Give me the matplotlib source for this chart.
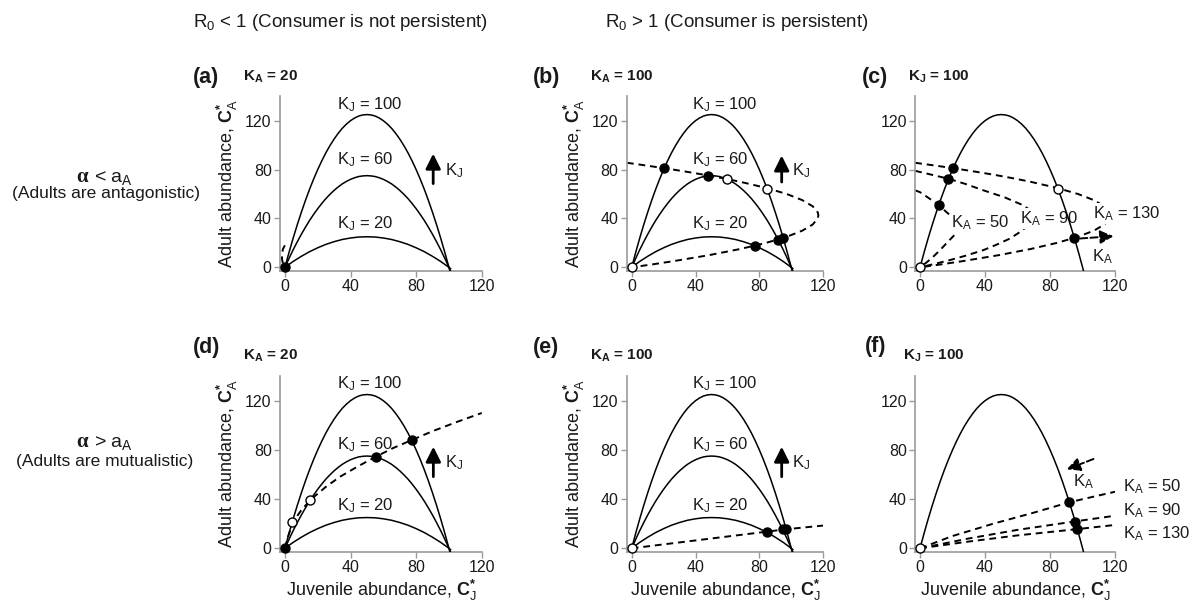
import matplotlib
matplotlib.use("Agg")
import matplotlib.pyplot as plt

plt.rcParams['font.family'] = ['Liberation Sans', 'DejaVu Sans']
plt.rcParams['mathtext.fontset'] = 'custom'
plt.rcParams['mathtext.rm'] = 'Liberation Sans'
plt.rcParams['mathtext.bf'] = 'Liberation Sans:bold'
plt.rcParams['mathtext.it'] = 'Liberation Sans:italic'

# ---------------- data ----------------
# hump-shaped juvenile nullclines (C_J*, C_A*) for K_J = 100, 60, 20
hump_cj = [0, 2.5, 5, 7.5, 10, 12.5, 15, 17.5, 20, 22.5, 25, 27.5, 30, 32.5, 35, 37.5, 40,
           42.5, 45, 47.5, 50, 52.5, 55, 57.5, 60, 62.5, 65, 67.5, 70, 72.5, 75, 77.5, 80,
           82.5, 85, 87.5, 90, 92.5, 95, 97.5, 100, 101]
hump_kj100 = [0, 12.2, 23.8, 34.7, 45.0, 54.7, 63.8, 72.2, 80.0, 87.2, 93.8, 99.7, 105.0,
              109.7, 113.8, 117.2, 120.0, 122.2, 123.8, 124.7, 125.0, 124.7, 123.8, 122.2,
              120.0, 117.2, 113.8, 109.7, 105.0, 99.7, 93.8, 87.2, 80.0, 72.2, 63.8, 54.7,
              45.0, 34.7, 23.8, 12.2, 0, -5.1]
hump_kj60 = [0, 7.3, 14.3, 20.8, 27.0, 32.8, 38.3, 43.3, 48.0, 52.3, 56.3, 59.8, 63.0, 65.8,
             68.3, 70.3, 72.0, 73.3, 74.3, 74.8, 75.0, 74.8, 74.3, 73.3, 72.0, 70.3, 68.3,
             65.8, 63.0, 59.8, 56.3, 52.3, 48.0, 43.3, 38.3, 32.8, 27.0, 20.8, 14.3, 7.3, 0, -3.0]
hump_kj20 = [0, 2.4, 4.8, 6.9, 9.0, 10.9, 12.8, 14.4, 16.0, 17.4, 18.8, 19.9, 21.0, 21.9,
             22.8, 23.4, 24.0, 24.4, 24.8, 24.9, 25.0, 24.9, 24.8, 24.4, 24.0, 23.4, 22.8,
             21.9, 21.0, 19.9, 18.8, 17.4, 16.0, 14.4, 12.8, 10.9, 9.0, 6.9, 4.8, 2.4, 0, -1.0]

# adult nullclines (dashed)
iso_a_cj = [0, -1.2, -1.8, -1.8, -1.2, 0]
iso_a_ca = [18, 15, 11, 7, 3, 0]

iso_b_cj = [-3, 0, 5.4, 15.9, 25.9, 37.7, 48.6, 58.7, 68.0, 84.2, 97.2, 106.9, 113.4, 116.6,
            117.0, 116.6, 113.4, 106.9, 97.2, 84.2, 68.0, 48.6, 25.9, 13.4, 0]
iso_b_ca = [85.5, 85, 84, 82, 80, 77.5, 75, 72.5, 70, 65, 60, 55, 50, 45, 42.5, 40, 35, 30,
            25, 20, 15, 10, 5, 2.5, 0]

iso_c130_cj = iso_b_cj
iso_c130_ca = iso_b_ca
iso_c90_cj = [-3, 0, 8, 17.4, 28, 39, 52, 63.6, 68.5, 70, 69, 66.7, 61, 55.4, 47, 39, 28, 18, 8, 0]
iso_c90_ca = [79, 78, 75.5, 72.5, 68.2, 63, 57.3, 50.7, 46, 41, 37.5, 34.4, 28.5, 23.6, 18.5,
              14.1, 9.5, 5.8, 2.5, 0]
iso_c50_cj = [-3, 0, 5, 11.7, 16, 20, 23.5, 25, 24.8, 23.6, 20.5, 16.5, 12.3, 8, 4, 0]
iso_c50_ca = [63, 61.5, 57, 50.7, 45.5, 41, 37, 34, 32, 30.4, 25.5, 20, 14.1, 8.5, 4, 0]

iso_d_cj = [0, 1.5, 5.1, 10, 15.9, 25, 33.6, 45, 55.5, 66, 77.3, 90, 105, 120]
iso_d_ca = [0, 8, 21.7, 31, 39.8, 50, 58.2, 67, 74.5, 81.5, 88, 95.2, 102.8, 110]

iso_e_cj = [0, 30, 60, 84.5, 96, 120]
iso_e_ca = [0, 4.8, 9.6, 13.5, 15.4, 18.5]

iso_f50_cj = [0, 20, 45, 70, 92, 120]
iso_f50_ca = [0, 10, 20, 29, 37.5, 46]
iso_f90_cj = [0, 30, 60, 96, 120]
iso_f90_ca = [0, 8, 15, 22, 26.5]
iso_f130_cj = [0, 30, 60, 97.4, 120]
iso_f130_ca = [0, 5.5, 10.5, 15.7, 19]

# equilibria: filled = stable, open = unstable
eq_a_filled = ([0], [0])
eq_b_filled = ([20.5, 48, 77, 92, 95], [81, 75, 17.8, 22.5, 23.8])
eq_b_open = ([0, 60, 85], [0, 72, 64])
eq_c_filled = ([20.5, 17.4, 11.7, 94.8], [81, 72.5, 50.7, 24.1])
eq_c_open = ([0, 85], [0, 64])
eq_d_filled = ([0, 55.5, 77.3], [0, 74.5, 88])
eq_d_open = ([4.5, 15.5], [21.5, 39.5])
eq_e_filled = ([84.5, 94.8, 96.9], [13.5, 15.3, 15.6])
eq_e_open = ([0], [0])
eq_f_filled = ([91.8, 95.5, 96.8], [37.8, 21.5, 15.5])
eq_f_open = ([0], [0])

x_ticks = [0, 40, 80, 120]
y_ticks = [0, 40, 80, 120]
kj_labels = ["K$_\\mathregular{J}$ = 100", "K$_\\mathregular{J}$ = 60", "K$_\\mathregular{J}$ = 20"]
ka_labels = ["K$_\\mathregular{A}$ = 50", "K$_\\mathregular{A}$ = 90", "K$_\\mathregular{A}$ = 130"]

# ---------------- figure ----------------
W, H = 1193, 606
fig = plt.figure(figsize=(W / 100, H / 100), dpi=100)
TXT = '#1a1a1a'
GRAY = '#9a9a9a'


def ftext(px, py, s, **kw):
    kw.setdefault('color', TXT)
    fig.text(px / W, 1 - py / H, s, **kw)


cols = [(0.2347, 0.1691), (0.5255, 0.1645), (0.7671, 0.1676)]
rows = [(0.5528, 0.2884), (0.0891, 0.2903)]

ylab = "Adult abundance, $\\mathbf{C}_\\mathregular{A}^{\\mathbf{*}}$"
xlab = "Juvenile abundance, $\\mathbf{C}_\\mathregular{J}^{\\mathbf{*}}$"

axes = {}
names = [['a', 'b', 'c'], ['d', 'e', 'f']]
for r, (bot, h) in enumerate(rows):
    for c, (left, w) in enumerate(cols):
        ax = fig.add_axes([left, bot, w, h])
        ax.set_xlim(-3, 120)
        ax.set_ylim(-3, 140)
        for s in ['top', 'right']:
            ax.spines[s].set_visible(False)
        for s in ['left', 'bottom']:
            ax.spines[s].set_color(GRAY)
            ax.spines[s].set_linewidth(1.2)
        ax.set_xticks(x_ticks)
        ax.set_yticks(y_ticks)
        ax.tick_params(direction='out', length=4, width=1, color=GRAY,
                       labelcolor=TXT, labelsize=11.5, pad=2)
        if c < 2:
            ax.set_ylabel(ylab, fontsize=13, color=TXT, labelpad=4)
        if r == 1:
            ax.set_xlabel(xlab, fontsize=13, color=TXT, labelpad=2)
        axes[names[r][c]] = ax

LW = 1.1
DASH = dict(color='black', lw=1.4, dashes=(3.5, 2.5), zorder=2)


def humps(ax, which=(0, 1, 2)):
    for i in which:
        y = [hump_kj100, hump_kj60, hump_kj20][i]
        ax.plot(hump_cj, y, color='black', lw=LW, zorder=4)


def points(ax, filled=None, opened=None):
    if filled is not None:
        ax.plot(filled[0], filled[1], 'o', ms=6.5, mfc='black', mec='black', zorder=6,
                clip_on=False)
    if opened is not None:
        ax.plot(opened[0], opened[1], 'o', ms=6.5, mfc='white', mec='black', mew=1.0,
                zorder=6, clip_on=False)


def kj_text(ax, xl, ys):
    for s, y in zip(kj_labels, ys):
        ax.text(xl, y, s, fontsize=12, color=TXT, ha='left', va='center', zorder=5)


def up_arrow(ax, x, y0, y1, lx, ly):
    ax.annotate('', xy=(x, y1), xytext=(x, y0),
                arrowprops=dict(arrowstyle='-|>,head_length=1.0,head_width=0.5',
                                mutation_scale=9, lw=2, color='black',
                                shrinkA=0, shrinkB=0))
    ax.text(lx, ly, "K$_\\mathregular{J}$", fontsize=12, color=TXT, ha='left', va='center')


def dash_arrow(ax, p0, p1):
    ax.annotate('', xy=p1, xytext=p0,
                arrowprops=dict(arrowstyle='-|>,head_length=1.0,head_width=0.5',
                                mutation_scale=8, lw=1.4, color='black', linestyle='--',
                                shrinkA=0, shrinkB=0), annotation_clip=False)


# (a)
ax = axes['a']
humps(ax)
ax.plot(iso_a_cj, iso_a_ca, **DASH)
points(ax, filled=eq_a_filled)
kj_text(ax, 31.5, [133, 88, 36])
up_arrow(ax, 90.4, 68.5, 93, 97.6, 79)

# (b)
ax = axes['b']
humps(ax)
ax.plot(iso_b_cj, iso_b_ca, **DASH)
points(ax, eq_b_filled, eq_b_open)
kj_text(ax, 37.6, [133, 88, 36])
up_arrow(ax, 94, 69.8, 91.5, 100.2, 79)

# (c)
ax = axes['c']
humps(ax, (0,))
ax.plot(iso_c130_cj, iso_c130_ca, **DASH)
ax.plot(iso_c90_cj, iso_c90_ca, **DASH)
ax.plot(iso_c50_cj, iso_c50_ca, **DASH)
points(ax, eq_c_filled, eq_c_open)
bb = dict(boxstyle='square,pad=0.05', fc='white', ec='none')
for s, (x, y) in zip(ka_labels, [(19.1, 36.4), (61.5, 40), (106.7, 44)]):
    ax.text(x, y, s, fontsize=12, color=TXT, ha='left', va='center', bbox=bb, zorder=3)
dash_arrow(ax, (98.5, 23.6), (119, 25.5))
ax.text(112, 8.7, "K$_\\mathregular{A}$", fontsize=12, color=TXT, ha='center', va='center')

# (d)
ax = axes['d']
humps(ax)
ax.plot(iso_d_cj, iso_d_ca, **DASH)
points(ax, eq_d_filled, eq_d_open)
kj_text(ax, 31.5, [134, 84, 35])
up_arrow(ax, 90.5, 58.2, 82.6, 97.6, 70)

# (e)
ax = axes['e']
humps(ax)
ax.plot(iso_e_cj, iso_e_ca, **DASH)
points(ax, eq_e_filled, eq_e_open)
kj_text(ax, 37.6, [134, 84, 35])
up_arrow(ax, 94, 58.2, 82.6, 100.2, 70)

# (f)
ax = axes['f']
humps(ax, (0,))
ax.plot(iso_f50_cj, iso_f50_ca, **DASH)
ax.plot(iso_f90_cj, iso_f90_ca, **DASH)
ax.plot(iso_f130_cj, iso_f130_ca, **DASH)
points(ax, eq_f_filled, eq_f_open)
for s, y in zip(ka_labels, [50, 31, 12.2]):
    ax.text(125, y, s, fontsize=12, color=TXT, ha='left', va='center')
dash_arrow(ax, (106.7, 72.6), (90.3, 64.2))
ax.text(100.5, 54, "K$_\\mathregular{A}$", fontsize=12, color=TXT, ha='center', va='center')

# panel letters and parameter titles
for letter, px, py in [('(a)', 193, 83), ('(b)', 533, 83), ('(c)', 862, 83),
                       ('(d)', 193, 353), ('(e)', 533, 353), ('(f)', 865, 352)]:
    ftext(px, py, letter, fontsize=15.5, fontweight='bold', ha='left', va='baseline')
for s, px, py in [("K$_\\mathregular{A}$ = 20", 243, 80.5), ("K$_\\mathregular{A}$ = 100", 590, 80.5),
                  ("K$_\\mathregular{J}$ = 100", 908, 80.5), ("K$_\\mathregular{A}$ = 20", 243, 360),
                  ("K$_\\mathregular{A}$ = 100", 590, 360), ("K$_\\mathregular{J}$ = 100", 903, 360)]:
    ftext(px, py, s, fontsize=11, fontweight='bold', ha='left', va='baseline')

# column headers
ftext(340, 27, "R$_\\mathregular{0}$ < 1 (Consumer is not persistent)", fontsize=13.5,
      ha='center', va='baseline')
ftext(737, 27, "R$_\\mathregular{0}$ > 1 (Consumer is persistent)", fontsize=13.5,
      ha='center', va='baseline')

# row headers
ftext(88, 181.7, "\u03b1", fontsize=15, fontweight='bold', family='Liberation Serif',
      ha='right', va='baseline')
ftext(94, 181.7, "< a$_\\mathregular{A}$", fontsize=14, ha='left', va='baseline')
ftext(106, 198.3, "(Adults are antagonistic)", fontsize=12.5, ha='center', va='baseline')
ftext(88, 446.7, "\u03b1", fontsize=15, fontweight='bold', family='Liberation Serif',
      ha='right', va='baseline')
ftext(94, 446.7, "> a$_\\mathregular{A}$", fontsize=14, ha='left', va='baseline')
ftext(105, 466, "(Adults are mutualistic)", fontsize=12.5, ha='center', va='baseline')

fig.savefig("out.png", dpi=100, facecolor='white')
